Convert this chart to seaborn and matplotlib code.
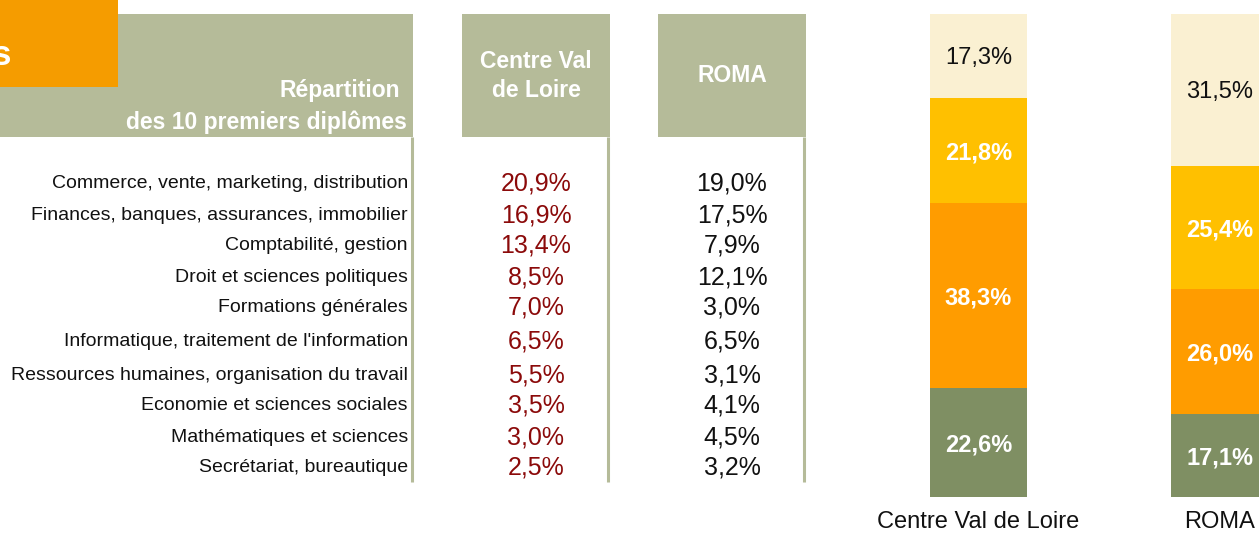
"""Répartition des 10 premiers diplômes: table + stacked bars (Centre Val de Loire vs ROMA)."""

import numpy as np
import pandas as pd
import matplotlib
matplotlib.use("Agg")
import matplotlib.pyplot as plt
from matplotlib.patches import Rectangle
import seaborn as sns

sns.set_theme(style="white")
plt.rcParams['font.family'] = ['Liberation Sans', 'DejaVu Sans']

# --- data ---
DIPLOMES = [
    "Commerce, vente, marketing, distribution",
    "Finances, banques, assurances, immobilier",
    "Comptabilité, gestion",
    "Droit et sciences politiques",
    "Formations générales",
    "Informatique, traitement de l'information",
    "Ressources humaines, organisation du travail",
    "Economie et sciences sociales",
    "Mathématiques et sciences",
    "Secrétariat, bureautique",
]
CVL_PCT = [20.9, 16.9, 13.4, 8.5, 7.0, 6.5, 5.5, 3.5, 3.0, 2.5]
ROMA_PCT = [19.0, 17.5, 7.9, 12.1, 3.0, 6.5, 3.1, 4.1, 4.5, 3.2]

REGIONS = ["Centre Val de Loire", "ROMA"]
SEGMENTS = ["niveau 1", "niveau 2", "niveau 3", "niveau 4"]  # bottom -> top
CVL_SEG = [22.6, 38.3, 21.8, 17.3]
ROMA_SEG = [17.1, 26.0, 25.4, 31.5]

# --- styling ---
HEADER = "#B5BB99"
ORANGE_BOX = "#F59C00"
RED = "#8B0A0A"
SEG_COLORS = ["#7F8F63", "#FF9C00", "#FFC000", "#FAF0D2"]
SEG_TEXT = ["white", "white", "white", "#111111"]
SEG_WEIGHT = ["bold", "bold", "bold", "normal"]

W, H = 1259, 534
ROW_Y = [184, 215, 246, 277, 307, 341, 375, 406, 437, 467]


def fmt(v):
    return f"{v:.1f}".replace(".", ",") + "%"


fig = plt.figure(figsize=(W / 100, H / 100), dpi=100)

# background axes in pixel coordinates for the table part
bg = fig.add_axes([0, 0, 1, 1])
bg.set_xlim(0, W)
bg.set_ylim(H, 0)
bg.axis("off")

# header boxes
bg.add_patch(Rectangle((0, 14), 413, 123, color=HEADER, lw=0))
bg.add_patch(Rectangle((0, 0), 118, 87, color=ORANGE_BOX, lw=0))
bg.add_patch(Rectangle((462, 14), 148, 123, color=HEADER, lw=0))
bg.add_patch(Rectangle((658, 14), 148, 123, color=HEADER, lw=0))
# vertical separators
for x in (412, 608.5, 804.5):
    bg.plot([x, x], [137, 482], color=HEADER, lw=2.2, solid_capstyle="butt")

bg.text(11, 65, "s", color="white", fontsize=25, fontweight="bold",
        ha="right", va="baseline")
bg.text(400, 91, "Répartition", color="white", fontsize=16.5,
        fontweight="bold", ha="right", va="center")
bg.text(407, 122, "des 10 premiers diplômes", color="white", fontsize=16.5,
        fontweight="bold", ha="right", va="center")
bg.text(536, 76, "Centre Val\nde Loire", color="white", fontsize=16.5,
        fontweight="bold", ha="center", va="center", linespacing=1.3)
bg.text(732, 76, "ROMA", color="white", fontsize=16.5,
        fontweight="bold", ha="center", va="center")

for y, lab, a, b in zip(ROW_Y, DIPLOMES, CVL_PCT, ROMA_PCT):
    bg.text(408, y, lab, fontsize=14, color="#111111", ha="right", va="center")
    bg.text(536, y, fmt(a), fontsize=18, color=RED, ha="center", va="center")
    bg.text(732, y, fmt(b), fontsize=18, color="#111111", ha="center", va="center")

# --- stacked bars ---
seg_df = pd.DataFrame({"region": REGIONS})
for name, a, b in zip(SEGMENTS, CVL_SEG, ROMA_SEG):
    seg_df[name] = [a, b]
cum = seg_df[SEGMENTS].cumsum(axis=1)

ax = fig.add_axes([880 / W, (H - 497) / H, 379 / W, 483 / H])
ax.patch.set_alpha(0)
bar_w = 97 / 241
for k in range(len(SEGMENTS) - 1, -1, -1):
    sns.barplot(x=seg_df["region"], y=cum[SEGMENTS[k]], color=SEG_COLORS[k],
                saturation=1, width=bar_w, ax=ax, linewidth=0)

for i in range(len(REGIONS)):
    bottom = 0
    for k, name in enumerate(SEGMENTS):
        v = seg_df.loc[i, name]
        ax.text(i, bottom + v / 2 - 0.5, fmt(v), color=SEG_TEXT[k], fontsize=17,
                fontweight=SEG_WEIGHT[k], ha="center", va="center")
        bottom += v

ax.set_xlim(-(978.5 - 880) / 241, -(978.5 - 880) / 241 + 379 / 241)
ax.set_ylim(0, 100)
ax.set_xlabel("")
ax.set_ylabel("")
ax.set_yticks([])
ax.tick_params(axis="x", length=0, pad=10, labelsize=17, labelcolor="#111111")
sns.despine(ax=ax, left=True, bottom=True)

fig.savefig("out.png", dpi=100)
